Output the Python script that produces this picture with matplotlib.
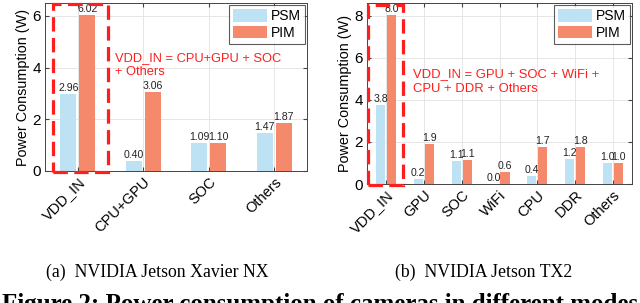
import matplotlib.pyplot as plt
from matplotlib.patches import Rectangle
import numpy as np

plt.rcParams['font.family'] = ['Liberation Sans', 'DejaVu Sans']

# (a) Xavier NX
cats_a = ['VDD_IN', 'CPU+GPU', 'SOC', 'Others']
psm_a = [2.96, 0.40, 1.09, 1.47]
pim_a = [6.02, 3.06, 1.10, 1.87]

# (b) TX2
cats_b = ['VDD_IN', 'GPU', 'SOC', 'WiFi', 'CPU', 'DDR', 'Others']
psm_b = [3.76, 0.23, 1.10, 0.00, 0.38, 1.20, 0.98]
pim_b = [8.03, 1.92, 1.14, 0.56, 1.74, 1.76, 1.00]

c_psm = '#BDE2F4'
c_pim = '#F4896B'
c_red = '#FF1E1E'

W, H = 640, 303
fig = plt.figure(figsize=(6.4, 3.03), dpi=100)


def panel(rect, cats, psm, pim, ylim, yticks, fmt, box, note, note_xy, fs_note):
  ax = fig.add_axes([rect[0]/W, 1-(rect[1]+rect[3])/H, rect[2]/W, rect[3]/H])
  x = np.arange(len(cats))
  off, bw = 0.145, 0.24
  ax.bar(x-off, psm, bw, color=c_psm, label='PSM', zorder=3)
  ax.bar(x+off, pim, bw, color=c_pim, label='PIM', zorder=3)
  for xi, v in zip(x-off, psm):
    ax.text(xi, v+ylim[1]*0.006, fmt % v, ha='center', va='bottom', fontsize=7.6, color='#222222', zorder=5)
  for xi, v in zip(x+off, pim):
    ax.text(xi, v+ylim[1]*0.006, fmt % v, ha='center', va='bottom', fontsize=7.6, color='#222222', zorder=5)
  ax.set_xlim(-0.5, len(cats)-0.5)
  ax.set_ylim(*ylim)
  ax.set_yticks(yticks)
  ax.set_xticks(x)
  ax.set_xticklabels(cats, rotation=45, ha='right', rotation_mode='anchor', fontsize=10.5)
  ax.tick_params(axis='y', labelsize=11)
  ax.tick_params(direction='in', length=3, color='#444444', pad=3, top=True, right=True)
  ax.grid(True, color='#e6e6e6', linewidth=0.7, zorder=0)
  for s in ax.spines.values():
    s.set_color('#444444')
    s.set_linewidth(0.7)
  ax.set_ylabel('Power Consumption (W)', fontsize=10.4, labelpad=2)
  rc = Rectangle((box[0], box[2]), box[1]-box[0], box[3]-box[2], fill=False,
                 edgecolor=c_red, linewidth=2.3, linestyle=(0, (4.5, 2)),
                 clip_on=False, zorder=6)
  ax.add_patch(rc)
  ax.text(note_xy[0], note_xy[1], note, color=c_red, fontsize=fs_note, ha='left', va='top',
          linespacing=1.3, zorder=6)
  leg = ax.legend(loc='upper right', fontsize=10, frameon=True, fancybox=False,
                  borderaxespad=0.15, handlelength=2.4, handleheight=1.0,
                  labelspacing=0.2, borderpad=0.3, handletextpad=0.3)
  leg.get_frame().set_edgecolor('#333333')
  leg.get_frame().set_linewidth(0.8)
  return ax


panel((45, 3, 262, 168), cats_a, psm_a, pim_a, (0, 6.5), [0, 2, 4, 6], '%.2f',
      (-0.38, 0.46, -0.04, 6.48), 'VDD_IN = CPU+GPU + SOC\n+ Others', (0.57, 4.62), 9.3)
panel((367, 3, 265, 181), cats_b, psm_b, pim_b, (0, 8.6), [0, 2, 4, 6, 8], '%.1f',
      (-0.47, 0.45, -0.05, 8.5), 'VDD_IN = GPU + SOC + WiFi +\nCPU + DDR + Others', (0.71, 5.5), 9.4)

fig.text(157/W, 1-272/H, '(a)  NVIDIA Jetson Xavier NX', ha='center', va='center',
         fontsize=12.8, family='Liberation Serif')
fig.text(484/W, 1-272/H, '(b)  NVIDIA Jetson TX2', ha='center', va='center',
         fontsize=12.8, family='Liberation Serif')
fig.text(0.5, 1-293/H, 'Figure 2: Power consumption of cameras in different modes',
         ha='center', va='top', fontsize=18, fontweight='bold', family='Liberation Serif')

fig.savefig('out.png', dpi=100)
